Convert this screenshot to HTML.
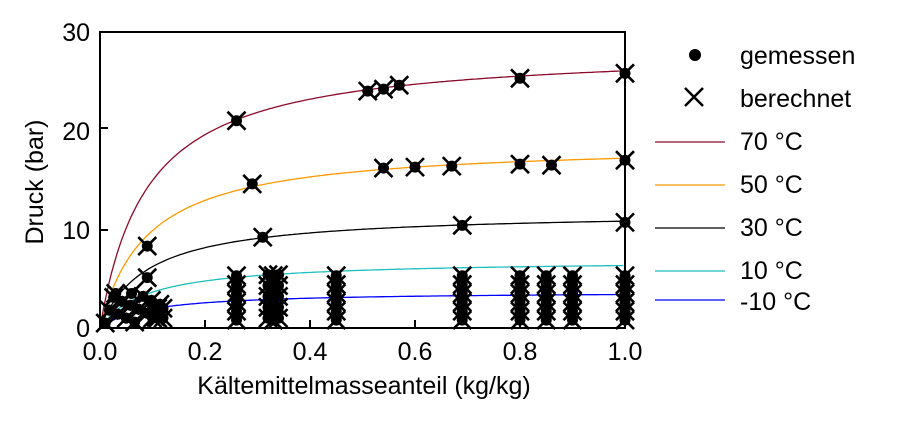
<!DOCTYPE html><html><head><style>body{margin:0;background:#fff}svg{display:block}text{font-family:"Liberation Sans",sans-serif;fill:#000}</style></head><body>
<svg id="s" width="900" height="428" xmlns="http://www.w3.org/2000/svg">
<g font-size="25">
<text x="100" y="360" text-anchor="middle">0.0</text><text x="205" y="360" text-anchor="middle">0.2</text><text x="310" y="360" text-anchor="middle">0.4</text><text x="415" y="360" text-anchor="middle">0.6</text><text x="520" y="360" text-anchor="middle">0.8</text><text x="625" y="360" text-anchor="middle">1.0</text>
<text x="90" y="337" text-anchor="end">0</text><text x="90" y="239" text-anchor="end">10</text><text x="90" y="140" text-anchor="end">20</text><text x="90" y="41" text-anchor="end">30</text>
<text x="364" y="394" text-anchor="middle">Kältemittelmasseanteil (kg/kg)</text>
<text transform="translate(43,182) rotate(-90)" text-anchor="middle">Druck (bar)</text>
<text x="740" y="64">gemessen</text><text x="740" y="107">berechnet</text><text x="740" y="150">70 °C</text><text x="740" y="193">50 °C</text><text x="740" y="236">30 °C</text><text x="740" y="279">10 °C</text><text x="740" y="310">-10 °C</text>
</g>
<g id="g"></g>
<rect x="100" y="32" width="525" height="296" fill="none" stroke="#000" stroke-width="2"/>
</svg>
<script>
var g=document.getElementById('g'),h='';
function X(x){return 100+525*x}function Y(p){return 328-9.87*p}
var cur=[[28.4,'#8b0a2a'],[18.75,'#ff9900'],[11.8,'#000'],[6.9,'#1fbfbf'],[3.7,'#0000ff']];
for(var i=0;i<5;i++){var d='M100 328';for(var x=0.002;x<=1.0001;x+=0.005){d+=' L'+X(x).toFixed(1)+' '+Y(cur[i][0]*x/(0.09+x)).toFixed(1)}h+='<path d="'+d+'" fill="none" stroke="'+cur[i][1]+'" stroke-width="1.3"/>';}
[205,310,415,520].forEach(function(x){h+='<line x1="'+x+'" y1="328" x2="'+x+'" y2="320" stroke="#000" stroke-width="2"/>'});
[128,230].forEach(function(y){h+='<line x1="100" y1="'+y+'" x2="108" y2="'+y+'" stroke="#000" stroke-width="2"/>'});
function pt(x,p){var a=X(x),b=Y(p);h+='<circle cx="'+a+'" cy="'+b+'" r="5.5"/><path d="M'+(a-9)+' '+(b-9)+'L'+(a+9)+' '+(b+9)+'M'+(a+9)+' '+(b-9)+'L'+(a-9)+' '+(b+9)+'" stroke="#000" stroke-width="2.6"/>'}
[[0.26,21],[0.51,24],[0.54,24.2],[0.57,24.6],[0.8,25.3],[1,25.8],[0.29,14.6],[0.54,16.2],[0.6,16.3],[0.67,16.4],[0.8,16.6],[0.86,16.5],[1,17],[0.09,8.3],[0.31,9.2],[0.69,10.4],[1,10.7],[0.09,5.1],[0.06,3.5],[0.03,3.5]].forEach(function(q){pt(q[0],q[1])});
[0.26,0.33,0.45,0.69,0.8,0.85,0.9,1].forEach(function(x){for(var p=0.8;p<=6;p+=0.9)pt(x,p)});
[0.32,0.34].forEach(function(x){for(var p=1;p<=5.5;p+=1.1)pt(x,p)});
for(var k=0;k<14;k++){pt(0.01+0.008*k,0.5+(k*1.3)%3)}
[0.1,0.11,0.12].forEach(function(x){pt(x,1);pt(x,2)});
h+='<circle cx="695" cy="55" r="6"/><path d="M685 88L703 106M703 88L685 106" stroke="#000" stroke-width="2.5"/>';
var ly=[142,185,228,271,300];for(i=0;i<5;i++)h+='<line x1="655" y1="'+ly[i]+'" x2="725" y2="'+ly[i]+'" stroke="'+cur[i][1]+'" stroke-width="1.3"/>';
g.innerHTML=h;
</script></body></html>
